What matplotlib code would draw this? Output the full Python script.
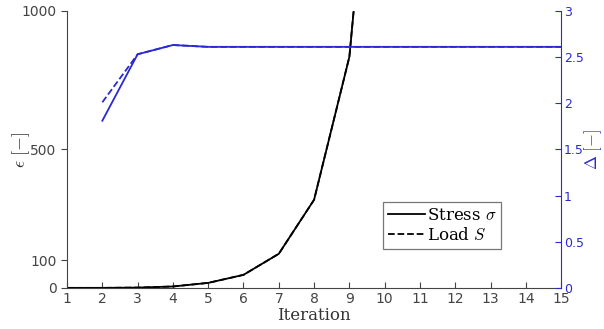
import matplotlib
matplotlib.use("Agg")
from matplotlib import pyplot as plt
from matplotlib.lines import Line2D

# iteration numbers and per-iteration results
iters = [1, 2, 3, 4, 5, 6, 7, 8, 9, 10]
eps_stress = [0, 0, 1, 5, 18, 47, 123, 318, 834, 2200]
eps_load = [0, 0, 1, 5, 18, 47, 123, 318, 834, 2200]

delta_iters = [2, 3, 4, 5, 6, 7, 8, 9, 10, 11, 12, 13, 14, 15]
delta_stress = [1.81, 2.53, 2.63, 2.61, 2.61, 2.61, 2.61, 2.61, 2.61, 2.61, 2.61, 2.61, 2.61, 2.61]
delta_load = [2.01, 2.53, 2.63, 2.61, 2.61, 2.61, 2.61, 2.61, 2.61, 2.61, 2.61, 2.61, 2.61, 2.61]

blue = '#2a2ad0'
grey = '#444444'
plt.rcParams['mathtext.fontset'] = 'cm'

fig = plt.figure(figsize=(6.04, 3.29), dpi=100)
ax = fig.add_axes([0.111, 0.125, 0.818, 0.842])
ax2 = ax.twinx()

ax.plot(iters, eps_load, color='black', lw=1.3, ls='--')
ax.plot(iters, eps_stress, color='black', lw=1.3)
ax2.plot(delta_iters, delta_load, color=blue, lw=1.3, ls='--')
ax2.plot(delta_iters, delta_stress, color=blue, lw=1.3)

ax.set_xlim(1, 15)
ax.set_ylim(0, 1000)
ax2.set_ylim(0, 3)
ax.set_xticks(range(1, 16))
ax.set_yticks([0, 100, 500, 1000])
ax2.set_yticks([0, 0.5, 1, 1.5, 2, 2.5, 3])
ax2.set_yticklabels(['0', '0.5', '1', '1.5', '2', '2.5', '3'])

for a in (ax, ax2):
    a.spines['top'].set_visible(False)
ax.spines['left'].set_color(grey)
ax.spines['bottom'].set_color(grey)
ax.spines['right'].set_visible(False)
ax2.spines['left'].set_visible(False)
ax2.spines['bottom'].set_visible(False)
ax2.spines['right'].set_color(blue)

ax.tick_params(axis='x', direction='in', length=4, colors=grey, labelsize=10, pad=3)
ax.tick_params(axis='y', direction='out', length=4, colors=grey, labelsize=10)
ax2.tick_params(axis='y', direction='in', length=4, colors=blue, labelsize=9, pad=2)

ax.set_xlabel('Iteration', family='serif', fontsize=12, color='#333333', labelpad=1)
ax.set_ylabel(r'$\epsilon\ [-]$', fontsize=13, color='#333333')
ax2.set_ylabel(r'$\Delta\ [-]$', fontsize=12, color=blue)
ax.yaxis.set_label_coords(-0.07, 0.5)
ax2.yaxis.set_label_coords(1.043, 0.5)

handles = [Line2D([], [], color='black', lw=1.3),
           Line2D([], [], color='black', lw=1.3, ls='--')]
leg = ax.legend(handles, [r'Stress $\sigma$', r'Load $S$'],
                loc='lower left', bbox_to_anchor=(0.64, 0.14),
                prop={'family': 'serif', 'size': 12}, fancybox=False,
                handlelength=2.2, handletextpad=0.1, borderpad=0.3,
                labelspacing=0.2, borderaxespad=0)
leg.get_frame().set_edgecolor('#555555')
leg.get_frame().set_linewidth(0.9)

fig.savefig('out.png', dpi=100)
